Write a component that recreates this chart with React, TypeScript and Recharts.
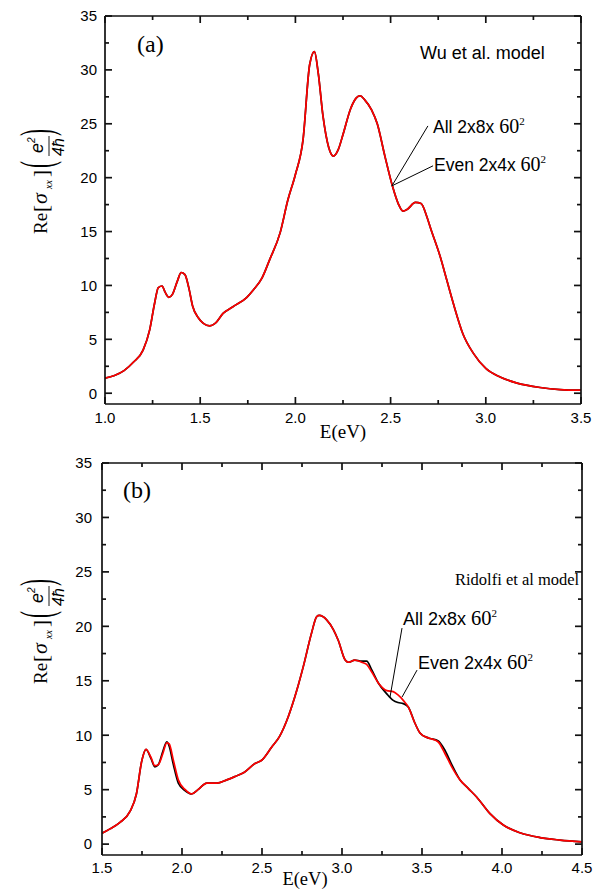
import { LineChart, Line, XAxis, YAxis, ReferenceLine } from "recharts";

// (a) Wu et al. model: photon energy (eV) and Re[sigma_xx] in units of e^2/4hbar
const wuEnergy = [
  1.0, 1.05, 1.1, 1.15, 1.2, 1.235, 1.26, 1.28, 1.3, 1.315, 1.335, 1.355, 1.38, 1.4, 1.42, 1.44,
  1.46, 1.49, 1.515, 1.55, 1.58, 1.62, 1.67, 1.745, 1.78, 1.825, 1.865, 1.92, 1.96, 2.0, 2.04,
  2.075, 2.1, 2.12, 2.145, 2.175, 2.2, 2.225, 2.25, 2.29, 2.32, 2.34, 2.365, 2.4, 2.43, 2.47,
  2.51, 2.54, 2.565, 2.59, 2.63, 2.66, 2.69, 2.71, 2.76, 2.795, 2.83, 2.88, 2.935, 3.0, 3.075,
  3.16, 3.285, 3.39, 3.5,
];
const wuAll = [
  1.4, 1.65, 2.1, 2.9, 4.0, 5.9, 8.3, 9.8, 9.95, 9.4, 8.9, 9.2, 10.4, 11.2, 11.0, 9.8,
  8.1, 7.0, 6.5, 6.25, 6.5, 7.4, 8.0, 8.9, 9.6, 10.7, 12.4, 14.9, 17.9, 20.3, 23.5,
  30.5, 31.7, 29.7, 25.7, 22.8, 22.0, 22.6, 24.0, 26.4, 27.4, 27.6, 27.2, 26.3, 25.0, 22.0,
  19.2, 17.6, 16.9, 17.1, 17.7, 17.6, 16.4, 15.3, 12.7, 10.5, 8.3, 5.5, 3.7, 2.3, 1.5,
  0.96, 0.53, 0.34, 0.28,
];
const wuEven = [
  1.4, 1.65, 2.1, 2.9, 4.0, 5.9, 8.3, 9.8, 9.95, 9.4, 8.9, 9.2, 10.4, 11.2, 11.0, 9.8,
  8.1, 7.0, 6.5, 6.25, 6.5, 7.4, 8.0, 8.9, 9.6, 10.7, 12.4, 14.9, 17.9, 20.3, 23.5,
  30.5, 31.7, 29.7, 25.7, 22.8, 22.0, 22.6, 24.0, 26.4, 27.4, 27.6, 27.2, 26.3, 25.0, 22.0,
  19.2, 17.6, 16.9, 17.1, 17.7, 17.6, 16.4, 15.3, 12.7, 10.5, 8.3, 5.5, 3.7, 2.3, 1.5,
  0.96, 0.53, 0.34, 0.28,
];
const wuMajorX = [1.0, 1.5, 2.0, 2.5, 3.0, 3.5];
const wuMinorX = [1.25, 1.75, 2.25, 2.75, 3.25];
// leader lines from the labels down to the curve
const wuLeaderAll = [{ x: 2.507, y: 19.24 }, { x: 2.696, y: 24.8 }];
const wuLeaderEven = [{ x: 2.507, y: 19.24 }, { x: 2.723, y: 21.1 }];

// (b) Ridolfi et al model
const ridEnergy = [
  1.5, 1.55, 1.6125, 1.675, 1.715, 1.748, 1.775, 1.805, 1.83, 1.852, 1.88, 1.905, 1.92, 1.946,
  1.977, 2.02, 2.06, 2.1, 2.155, 2.217, 2.28, 2.33, 2.39, 2.456, 2.498, 2.56, 2.61, 2.664,
  2.717, 2.758, 2.81, 2.842, 2.858, 2.904, 2.946, 2.977, 3.02, 3.04, 3.08, 3.123, 3.154,
  3.186, 3.227, 3.28, 3.32, 3.35, 3.383, 3.414, 3.456, 3.4875, 3.53, 3.55, 3.6, 3.644, 3.686,
  3.7375, 3.79, 3.84, 3.925, 4.008, 4.1125, 4.2375, 4.3625, 4.5,
];
const ridAll = [
  1.0, 1.4, 2.0, 3.0, 4.6, 7.6, 8.7, 7.9, 7.1, 7.3, 8.5, 9.4, 9.0, 7.3,
  5.6, 4.9, 4.6, 5.0, 5.6, 5.6, 5.9, 6.2, 6.6, 7.4, 7.7, 8.9, 9.9, 11.7,
  14.1, 16.3, 19.4, 20.9, 21.0, 20.6, 19.7, 18.7, 16.9, 16.7, 16.9, 16.8, 16.8,
  16.0, 14.8, 13.8, 13.2, 13.0, 12.9, 12.6, 11.1, 10.2, 9.8, 9.7, 9.5, 8.6, 7.3,
  5.9, 5.1, 4.35, 2.8, 1.75, 1.04, 0.6, 0.37, 0.2,
];
const ridEven = [
  1.0, 1.4, 2.0, 3.0, 4.6, 7.6, 8.7, 8.0, 7.2, 7.3, 8.3, 9.3, 9.2, 7.7,
  5.9, 5.0, 4.6, 5.0, 5.6, 5.6, 5.9, 6.2, 6.6, 7.4, 7.7, 8.9, 9.9, 11.7,
  14.1, 16.3, 19.4, 20.9, 21.0, 20.6, 19.7, 18.7, 16.9, 16.7, 16.9, 16.7, 16.5,
  15.8, 14.8, 14.1, 14.0, 13.7, 13.2, 12.6, 11.1, 10.2, 9.8, 9.7, 9.4, 8.3, 7.1,
  5.9, 5.1, 4.35, 2.8, 1.75, 1.04, 0.6, 0.37, 0.2,
];
const ridMajorX = [1.5, 2.0, 2.5, 3.0, 3.5, 4.0, 4.5];
const ridMinorX = [1.75, 2.25, 2.75, 3.25, 3.75, 4.25];
const ridLeaderAll = [{ x: 3.375, y: 19.84 }, { x: 3.3, y: 13.5 }];
const ridLeaderEven = [{ x: 3.469, y: 15.98 }, { x: 3.375, y: 13.5 }];

const majorY = [0, 5, 10, 15, 20, 25, 30, 35];
const minorY = [2.5, 7.5, 12.5, 17.5, 22.5, 27.5, 32.5];
const Y_MIN = -1;
const Y_MAX = 35;

const SANS = "'Liberation Sans', Arial, sans-serif";
const SERIF = "'Liberation Serif', 'Times New Roman', serif";
const AXIS = "#111";
const MAJOR = 7;
const MINOR = 4;
const CHART_W = 602;
const CHART_H = 445;
const X_AXIS_H = 30;
const Y_AXIS_W = 40;

const wuRows = wuEnergy.map((e, i) => ({ e, all: wuAll[i], even: wuEven[i] }));
const ridRows = ridEnergy.map((e, i) => ({ e, all: ridAll[i], even: ridEven[i] }));

function Panel({ rows, majorX, minorX, domain, margin, gapX, gapY, leaders }: any) {
  const frame = { stroke: AXIS, strokeWidth: 1.7 };
  const label = { fill: "#000", fontFamily: SANS, fontSize: 15 };
  const yDom = [Y_MIN, Y_MAX];

  // inward tick marks on all four sides, as short segments from the frame
  const plotW = CHART_W - margin.left - Y_AXIS_W - margin.right - 1;
  const plotH = CHART_H - margin.top - 1 - X_AXIS_H - margin.bottom;
  const perX = plotW / (domain[1] - domain[0]);
  const perY = plotH / (Y_MAX - Y_MIN);
  const xMarks = [...majorX.map((v: number) => [v, MAJOR]), ...minorX.map((v: number) => [v, MINOR])];
  const yMarks = [...majorY.map((v) => [v, MAJOR]), ...minorY.map((v) => [v, MINOR])];
  const tickSegs: any[] = [];
  xMarks.forEach(([v, len]) => {
    tickSegs.push([{ x: v, y: Y_MIN }, { x: v, y: Y_MIN + len / perY }]);
    tickSegs.push([{ x: v, y: Y_MAX }, { x: v, y: Y_MAX - len / perY }]);
  });
  yMarks.forEach(([v, len]) => {
    tickSegs.push([{ x: domain[0], y: v }, { x: domain[0] + len / perX, y: v }]);
    tickSegs.push([{ x: domain[1], y: v }, { x: domain[1] - len / perX, y: v }]);
  });

  return (
    <LineChart width={CHART_W} height={CHART_H} data={rows} margin={margin}>
      <XAxis
        dataKey="e" type="number" domain={domain} ticks={majorX} interval={0} allowDataOverflow height={X_AXIS_H}
        stroke={AXIS} axisLine={frame} tickLine={false} tickSize={0} tickMargin={gapX}
        tickFormatter={(v: number) => v.toFixed(1)} tick={label}
      />
      <XAxis
        xAxisId="top" orientation="top" type="number" domain={domain} ticks={majorX} interval={0}
        allowDataOverflow height={1} stroke={AXIS} axisLine={frame} tickLine={false} tickSize={0} tick={false}
      />
      <YAxis
        type="number" domain={yDom} ticks={majorY} interval={0} allowDataOverflow width={Y_AXIS_W}
        stroke={AXIS} axisLine={frame} tickLine={false} tickSize={0} tickMargin={gapY} tick={label}
      />
      <YAxis
        yAxisId="right" orientation="right" type="number" domain={yDom} ticks={majorY} interval={0}
        allowDataOverflow width={1} stroke={AXIS} axisLine={frame} tickLine={false} tickSize={0} tick={false}
      />
      <Line dataKey="all" type="monotone" stroke="#000" strokeWidth={1.7} dot={false} isAnimationActive={false} />
      <Line dataKey="even" type="monotone" stroke="#ff0000" strokeWidth={1.7} dot={false} isAnimationActive={false} />
      {leaders.map((seg: any, i: number) => (
        <ReferenceLine key={`l${i}`} segment={seg} stroke="#000" strokeWidth={1} ifOverflow="visible" />
      ))}
      {tickSegs.map((seg, i) => (
        <ReferenceLine key={`t${i}`} segment={seg} stroke={AXIS} strokeWidth={1.7} ifOverflow="visible" />
      ))}
    </LineChart>
  );
}

// Re[sigma_xx](e^2/4hbar), written sideways
function YTitle({ cx, cy }: { cx: number; cy: number }) {
  return (
    <g transform={`translate(${cx},${cy}) rotate(-90)`} fill="#000">
      <text x={-53} y={0} fontFamily={SERIF} fontSize={19}>Re</text>
      <text x={-31} y={1} fontFamily={SERIF} fontSize={21}>[</text>
      <text x={-23} y={0} fontFamily={SERIF} fontSize={22} fontStyle="italic">σ</text>
      <text x={-8} y={5} fontFamily={SERIF} fontSize={10} fontStyle="italic">xx</text>
      <text x={4} y={1} fontFamily={SERIF} fontSize={21}>]</text>
      <text transform="translate(13,5) scale(1,2.25)" fontFamily={SERIF} fontSize={21}>(</text>
      <text x={28} y={-4} fontFamily={SANS} fontSize={18} fontStyle="italic">e</text>
      <text x={38} y={-12} fontFamily={SANS} fontSize={10} fontStyle="italic">2</text>
      <line x1={25} x2={45} y1={2} y2={2} stroke="#000" strokeWidth={0.9} />
      <text x={25} y={17} fontFamily={SANS} fontSize={16} fontStyle="italic">4ħ</text>
      <text transform="translate(45,5) scale(1,2.25)" fontFamily={SERIF} fontSize={21}>)</text>
    </g>
  );
}

function SizeLabel({ x, y, text, size }: { x: number; y: number; text: string; size: number }) {
  return (
    <text x={x} y={y} fill="#000">
      <tspan fontFamily={SANS} fontSize={size}>{text} </tspan>
      <tspan fontFamily={SERIF} fontSize={size + 2.5}>60</tspan>
      <tspan fontFamily={SERIF} fontSize={11} dy={-8}>2</tspan>
    </text>
  );
}

export default function App() {
  return (
    <div style={{ position: "absolute", left: 0, top: 0, width: 602, height: 890, background: "#fff", overflow: "hidden" }}>
      <div style={{ position: "absolute", left: 0, top: 0 }}>
        <Panel
          rows={wuRows} majorX={wuMajorX} minorX={wuMinorX} domain={[1, 3.5]}
          margin={{ top: 15, right: 20, bottom: 11, left: 65 }} gapX={8.3} gapY={8}
          leaders={[wuLeaderAll, wuLeaderEven]}
        />
      </div>
      <div style={{ position: "absolute", left: 0, top: CHART_H }}>
        <Panel
          rows={ridRows} majorX={ridMajorX} minorX={ridMinorX} domain={[1.5, 4.5]}
          margin={{ top: 17, right: 19, bottom: 5, left: 62 }} gapX={7.3} gapY={10}
          leaders={[ridLeaderAll, ridLeaderEven]}
        />
      </div>
      <svg width={602} height={890} style={{ position: "absolute", left: 0, top: 0, pointerEvents: "none" }}>
        <text x={137} y={52} fontFamily={SERIF} fontSize={24}>(a)</text>
        <text x={420} y={59} fontFamily={SANS} fontSize={18}>Wu et al. model</text>
        <SizeLabel x={433} y={133} text="All 2x8x" size={17.5} />
        <SizeLabel x={434} y={171} text="Even 2x4x" size={17.5} />
        <text x={343} y={438} textAnchor="middle" fontFamily={SERIF} fontSize={19}>E(eV)</text>
        <YTitle cx={47} cy={181} />

        <text x={123} y={498} fontFamily={SERIF} fontSize={24}>(b)</text>
        <text x={455} y={585} fontFamily={SERIF} fontSize={16.5}>Ridolfi et al model</text>
        <SizeLabel x={403} y={625} text="All 2x8x" size={18} />
        <SizeLabel x={418} y={669} text="Even 2x4x" size={18} />
        <text x={305} y={885} textAnchor="middle" fontFamily={SERIF} fontSize={18.5}>E(eV)</text>
        <YTitle cx={47} cy={631} />
      </svg>
    </div>
  );
}
